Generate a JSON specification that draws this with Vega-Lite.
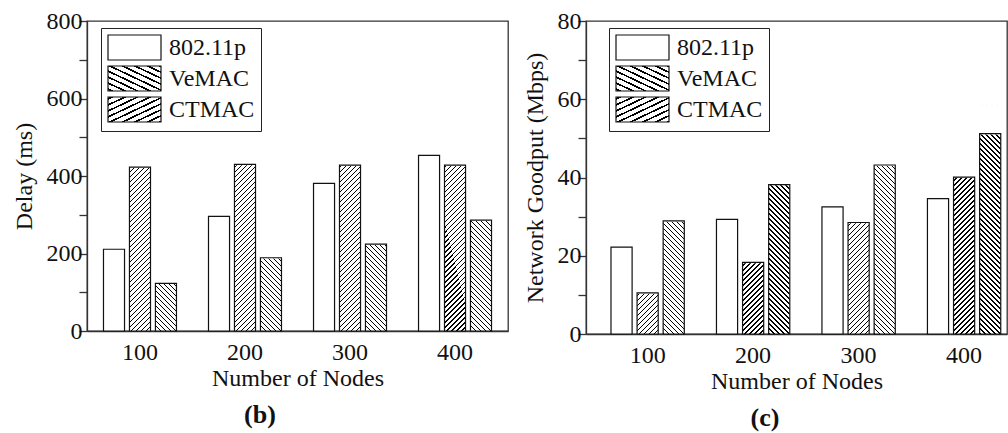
{
  "$schema": "https://vega.github.io/schema/vega-lite/v6.json",
  "padding": {"left": 11, "top": 8, "right": 0, "bottom": 0},
  "background": "white",
  "params": [
    {"name": "stB", "value": [
      {"offset":0,"color":"#000"},{"offset":0.006,"color":"#000"},{"offset":0.006,"color":"#fff"},{"offset":0.02,"color":"#fff"},
      {"offset":0.02,"color":"#000"},{"offset":0.026,"color":"#000"},{"offset":0.026,"color":"#fff"},{"offset":0.04,"color":"#fff"},
      {"offset":0.04,"color":"#000"},{"offset":0.046,"color":"#000"},{"offset":0.046,"color":"#fff"},{"offset":0.06,"color":"#fff"},
      {"offset":0.06,"color":"#000"},{"offset":0.066,"color":"#000"},{"offset":0.066,"color":"#fff"},{"offset":0.08,"color":"#fff"},
      {"offset":0.08,"color":"#000"},{"offset":0.086,"color":"#000"},{"offset":0.086,"color":"#fff"},{"offset":0.1,"color":"#fff"},
      {"offset":0.1,"color":"#000"},{"offset":0.106,"color":"#000"},{"offset":0.106,"color":"#fff"},{"offset":0.12,"color":"#fff"},
      {"offset":0.12,"color":"#000"},{"offset":0.126,"color":"#000"},{"offset":0.126,"color":"#fff"},{"offset":0.14,"color":"#fff"},
      {"offset":0.14,"color":"#000"},{"offset":0.146,"color":"#000"},{"offset":0.146,"color":"#fff"},{"offset":0.16,"color":"#fff"},
      {"offset":0.16,"color":"#000"},{"offset":0.166,"color":"#000"},{"offset":0.166,"color":"#fff"},{"offset":0.18,"color":"#fff"},
      {"offset":0.18,"color":"#000"},{"offset":0.186,"color":"#000"},{"offset":0.186,"color":"#fff"},{"offset":0.2,"color":"#fff"},
      {"offset":0.2,"color":"#000"},{"offset":0.206,"color":"#000"},{"offset":0.206,"color":"#fff"},{"offset":0.22,"color":"#fff"},
      {"offset":0.22,"color":"#000"},{"offset":0.226,"color":"#000"},{"offset":0.226,"color":"#fff"},{"offset":0.24,"color":"#fff"},
      {"offset":0.24,"color":"#000"},{"offset":0.246,"color":"#000"},{"offset":0.246,"color":"#fff"},{"offset":0.26,"color":"#fff"},
      {"offset":0.26,"color":"#000"},{"offset":0.266,"color":"#000"},{"offset":0.266,"color":"#fff"},{"offset":0.28,"color":"#fff"},
      {"offset":0.28,"color":"#000"},{"offset":0.286,"color":"#000"},{"offset":0.286,"color":"#fff"},{"offset":0.3,"color":"#fff"},
      {"offset":0.3,"color":"#000"},{"offset":0.306,"color":"#000"},{"offset":0.306,"color":"#fff"},{"offset":0.32,"color":"#fff"},
      {"offset":0.32,"color":"#000"},{"offset":0.326,"color":"#000"},{"offset":0.326,"color":"#fff"},{"offset":0.34,"color":"#fff"},
      {"offset":0.34,"color":"#000"},{"offset":0.346,"color":"#000"},{"offset":0.346,"color":"#fff"},{"offset":0.36,"color":"#fff"},
      {"offset":0.36,"color":"#000"},{"offset":0.366,"color":"#000"},{"offset":0.366,"color":"#fff"},{"offset":0.38,"color":"#fff"},
      {"offset":0.38,"color":"#000"},{"offset":0.386,"color":"#000"},{"offset":0.386,"color":"#fff"},{"offset":0.4,"color":"#fff"},
      {"offset":0.4,"color":"#000"},{"offset":0.406,"color":"#000"},{"offset":0.406,"color":"#fff"},{"offset":0.42,"color":"#fff"},
      {"offset":0.42,"color":"#000"},{"offset":0.426,"color":"#000"},{"offset":0.426,"color":"#fff"},{"offset":0.44,"color":"#fff"},
      {"offset":0.44,"color":"#000"},{"offset":0.446,"color":"#000"},{"offset":0.446,"color":"#fff"},{"offset":0.46,"color":"#fff"},
      {"offset":0.46,"color":"#000"},{"offset":0.466,"color":"#000"},{"offset":0.466,"color":"#fff"},{"offset":0.48,"color":"#fff"},
      {"offset":0.48,"color":"#000"},{"offset":0.486,"color":"#000"},{"offset":0.486,"color":"#fff"},{"offset":0.5,"color":"#fff"},
      {"offset":0.5,"color":"#000"},{"offset":0.506,"color":"#000"},{"offset":0.506,"color":"#fff"},{"offset":0.52,"color":"#fff"},
      {"offset":0.52,"color":"#000"},{"offset":0.526,"color":"#000"},{"offset":0.526,"color":"#fff"},{"offset":0.54,"color":"#fff"},
      {"offset":0.54,"color":"#000"},{"offset":0.546,"color":"#000"},{"offset":0.546,"color":"#fff"},{"offset":0.56,"color":"#fff"},
      {"offset":0.56,"color":"#000"},{"offset":0.566,"color":"#000"},{"offset":0.566,"color":"#fff"},{"offset":0.58,"color":"#fff"},
      {"offset":0.58,"color":"#000"},{"offset":0.586,"color":"#000"},{"offset":0.586,"color":"#fff"},{"offset":0.6,"color":"#fff"},
      {"offset":0.6,"color":"#000"},{"offset":0.606,"color":"#000"},{"offset":0.606,"color":"#fff"},{"offset":0.62,"color":"#fff"},
      {"offset":0.62,"color":"#000"},{"offset":0.626,"color":"#000"},{"offset":0.626,"color":"#fff"},{"offset":0.64,"color":"#fff"},
      {"offset":0.64,"color":"#000"},{"offset":0.646,"color":"#000"},{"offset":0.646,"color":"#fff"},{"offset":0.66,"color":"#fff"},
      {"offset":0.66,"color":"#000"},{"offset":0.666,"color":"#000"},{"offset":0.666,"color":"#fff"},{"offset":0.68,"color":"#fff"},
      {"offset":0.68,"color":"#000"},{"offset":0.686,"color":"#000"},{"offset":0.686,"color":"#fff"},{"offset":0.7,"color":"#fff"},
      {"offset":0.7,"color":"#000"},{"offset":0.706,"color":"#000"},{"offset":0.706,"color":"#fff"},{"offset":0.72,"color":"#fff"},
      {"offset":0.72,"color":"#000"},{"offset":0.726,"color":"#000"},{"offset":0.726,"color":"#fff"},{"offset":0.74,"color":"#fff"},
      {"offset":0.74,"color":"#000"},{"offset":0.746,"color":"#000"},{"offset":0.746,"color":"#fff"},{"offset":0.76,"color":"#fff"},
      {"offset":0.76,"color":"#000"},{"offset":0.766,"color":"#000"},{"offset":0.766,"color":"#fff"},{"offset":0.78,"color":"#fff"},
      {"offset":0.78,"color":"#000"},{"offset":0.786,"color":"#000"},{"offset":0.786,"color":"#fff"},{"offset":0.8,"color":"#fff"},
      {"offset":0.8,"color":"#000"},{"offset":0.806,"color":"#000"},{"offset":0.806,"color":"#fff"},{"offset":0.82,"color":"#fff"},
      {"offset":0.82,"color":"#000"},{"offset":0.826,"color":"#000"},{"offset":0.826,"color":"#fff"},{"offset":0.84,"color":"#fff"},
      {"offset":0.84,"color":"#000"},{"offset":0.846,"color":"#000"},{"offset":0.846,"color":"#fff"},{"offset":0.86,"color":"#fff"},
      {"offset":0.86,"color":"#000"},{"offset":0.866,"color":"#000"},{"offset":0.866,"color":"#fff"},{"offset":0.88,"color":"#fff"},
      {"offset":0.88,"color":"#000"},{"offset":0.886,"color":"#000"},{"offset":0.886,"color":"#fff"},{"offset":0.9,"color":"#fff"},
      {"offset":0.9,"color":"#000"},{"offset":0.906,"color":"#000"},{"offset":0.906,"color":"#fff"},{"offset":0.92,"color":"#fff"},
      {"offset":0.92,"color":"#000"},{"offset":0.926,"color":"#000"},{"offset":0.926,"color":"#fff"},{"offset":0.94,"color":"#fff"},
      {"offset":0.94,"color":"#000"},{"offset":0.946,"color":"#000"},{"offset":0.946,"color":"#fff"},{"offset":0.96,"color":"#fff"},
      {"offset":0.96,"color":"#000"},{"offset":0.966,"color":"#000"},{"offset":0.966,"color":"#fff"},{"offset":0.98,"color":"#fff"},
      {"offset":0.98,"color":"#000"},{"offset":0.986,"color":"#000"},{"offset":0.986,"color":"#fff"},{"offset":1,"color":"#fff"}
    ]},
    {"name": "stL", "value": [
      {"offset":0,"color":"#000"},{"offset":0.015,"color":"#000"},{"offset":0.015,"color":"#fff"},{"offset":0.05,"color":"#fff"},
      {"offset":0.05,"color":"#000"},{"offset":0.065,"color":"#000"},{"offset":0.065,"color":"#fff"},{"offset":0.1,"color":"#fff"},
      {"offset":0.1,"color":"#000"},{"offset":0.115,"color":"#000"},{"offset":0.115,"color":"#fff"},{"offset":0.15,"color":"#fff"},
      {"offset":0.15,"color":"#000"},{"offset":0.165,"color":"#000"},{"offset":0.165,"color":"#fff"},{"offset":0.2,"color":"#fff"},
      {"offset":0.2,"color":"#000"},{"offset":0.215,"color":"#000"},{"offset":0.215,"color":"#fff"},{"offset":0.25,"color":"#fff"},
      {"offset":0.25,"color":"#000"},{"offset":0.265,"color":"#000"},{"offset":0.265,"color":"#fff"},{"offset":0.3,"color":"#fff"},
      {"offset":0.3,"color":"#000"},{"offset":0.315,"color":"#000"},{"offset":0.315,"color":"#fff"},{"offset":0.35,"color":"#fff"},
      {"offset":0.35,"color":"#000"},{"offset":0.365,"color":"#000"},{"offset":0.365,"color":"#fff"},{"offset":0.4,"color":"#fff"},
      {"offset":0.4,"color":"#000"},{"offset":0.415,"color":"#000"},{"offset":0.415,"color":"#fff"},{"offset":0.45,"color":"#fff"},
      {"offset":0.45,"color":"#000"},{"offset":0.465,"color":"#000"},{"offset":0.465,"color":"#fff"},{"offset":0.5,"color":"#fff"},
      {"offset":0.5,"color":"#000"},{"offset":0.515,"color":"#000"},{"offset":0.515,"color":"#fff"},{"offset":0.55,"color":"#fff"},
      {"offset":0.55,"color":"#000"},{"offset":0.565,"color":"#000"},{"offset":0.565,"color":"#fff"},{"offset":0.6,"color":"#fff"},
      {"offset":0.6,"color":"#000"},{"offset":0.615,"color":"#000"},{"offset":0.615,"color":"#fff"},{"offset":0.65,"color":"#fff"},
      {"offset":0.65,"color":"#000"},{"offset":0.665,"color":"#000"},{"offset":0.665,"color":"#fff"},{"offset":0.7,"color":"#fff"},
      {"offset":0.7,"color":"#000"},{"offset":0.715,"color":"#000"},{"offset":0.715,"color":"#fff"},{"offset":0.75,"color":"#fff"},
      {"offset":0.75,"color":"#000"},{"offset":0.765,"color":"#000"},{"offset":0.765,"color":"#fff"},{"offset":0.8,"color":"#fff"},
      {"offset":0.8,"color":"#000"},{"offset":0.815,"color":"#000"},{"offset":0.815,"color":"#fff"},{"offset":0.85,"color":"#fff"},
      {"offset":0.85,"color":"#000"},{"offset":0.865,"color":"#000"},{"offset":0.865,"color":"#fff"},{"offset":0.9,"color":"#fff"},
      {"offset":0.9,"color":"#000"},{"offset":0.915,"color":"#000"},{"offset":0.915,"color":"#fff"},{"offset":0.95,"color":"#fff"},
      {"offset":0.95,"color":"#000"},{"offset":0.965,"color":"#000"},{"offset":0.965,"color":"#fff"},{"offset":1,"color":"#fff"}
    ]},
    {"name": "gradV", "expr": "{gradient: 'linear', x1: 0, y1: 0, x2: 0.0995, y2: 1.0826, stops: stB}"},
    {"name": "gradC", "expr": "{gradient: 'linear', x1: 0, y1: 1, x2: 0.0995, y2: -0.0826, stops: stB}"},
    {"name": "gradLV", "expr": "{gradient: 'linear', x1: 0, y1: 0, x2: 1.2038, y2: 0.5682, stops: stL}"},
    {"name": "gradLC", "expr": "{gradient: 'linear', x1: 0, y1: 1, x2: 1.2038, y2: 0.4318, stops: stL}"}
  ],
  "data": {"values": [
    {"nodes": "100", "protocol": "802.11p", "delay": 211, "goodput": 22.2},
    {"nodes": "100", "protocol": "VeMAC", "delay": 423, "goodput": 10.5},
    {"nodes": "100", "protocol": "CTMAC", "delay": 123, "goodput": 28.9},
    {"nodes": "200", "protocol": "802.11p", "delay": 296, "goodput": 29.3},
    {"nodes": "200", "protocol": "VeMAC", "delay": 430, "goodput": 18.3},
    {"nodes": "200", "protocol": "CTMAC", "delay": 189, "goodput": 38.2},
    {"nodes": "300", "protocol": "802.11p", "delay": 381, "goodput": 32.5},
    {"nodes": "300", "protocol": "VeMAC", "delay": 428, "goodput": 28.5},
    {"nodes": "300", "protocol": "CTMAC", "delay": 224, "goodput": 43.2},
    {"nodes": "400", "protocol": "802.11p", "delay": 453, "goodput": 34.6},
    {"nodes": "400", "protocol": "VeMAC", "delay": 428, "goodput": 40.1},
    {"nodes": "400", "protocol": "CTMAC", "delay": 286, "goodput": 51.2}
  ]},
  "config": {
    "font": "Liberation Serif",
    "view": {"stroke": "#333", "strokeWidth": 1.3},
    "axis": {"labelFont": "Liberation Serif", "titleFont": "Liberation Serif", "labelFontSize": 24, "titleFontSize": 24, "titleFontWeight": "normal", "labelColor": "#111", "titleColor": "#111", "domainColor": "#333", "tickColor": "#333", "domainWidth": 1.3, "tickWidth": 1.3, "grid": false},
    "legend": {"labelFont": "Liberation Serif", "labelFontSize": 24, "labelColor": "#111"},
    "title": {"font": "Liberation Serif", "fontSize": 26, "fontWeight": "bold", "color": "#111"},
    "concat": {"spacing": 13}
  },
  "resolve": {"scale": {"fill": "independent", "x": "independent", "xOffset": "independent", "y": "independent"}, "legend": {"fill": "independent"}},
  "hconcat": [
    {
      "width": 421,
      "height": 310,
      "title": {"text": "(b)", "orient": "bottom", "frame": "bounds", "anchor": "middle", "offset": 12},
      "encoding": {
        "x": {"field": "nodes", "type": "nominal", "scale": {"paddingInner": 0.305, "paddingOuter": 0.157}, "axis": {"title": "Number of Nodes", "labelAngle": 0, "tickSize": 0, "labelPadding": 9, "titlePadding": 2}},
        "xOffset": {"field": "protocol", "type": "nominal", "scale": {"domain": ["802.11p", "VeMAC", "CTMAC"], "paddingInner": 0.19, "paddingOuter": 0}}
      },
      "layer": [
        {
          "mark": {"type": "bar", "strokeWidth": 0},
          "encoding": {
            "y": {"datum": 0, "type": "quantitative", "scale": {"domain": [0, 800]}, "axis": {"title": "Delay (ms)", "values": [0, 100, 200, 300, 400, 500, 600, 700, 800], "labelExpr": "datum.value % 200 === 0 ? datum.label : ''", "tickSize": 8, "labelPadding": -3, "titlePadding": 10}},
            "y2": {"datum": 591},
            "fill": {"field": "protocol", "type": "nominal", "scale": {"domain": ["802.11p", "VeMAC", "CTMAC"], "range": ["#fff", {"expr": "gradV"}, {"expr": "gradC"}]},
              "legend": {"orient": "none", "legendX": 14, "legendY": 7, "title": null, "symbolType": "M-2.12,-1H2.12V1H-2.12Z", "symbolSize": 625, "padding": 6, "rowPadding": 0, "symbolOffset": 14, "labelOffset": 21, "strokeColor": "#222", "fillColor": "#fff", "cornerRadius": 0,
                "encode": {"symbols": {"update": {"fill": {"signal": "datum.value === 'VeMAC' ? gradLV : datum.value === 'CTMAC' ? gradLC : '#fff'"}, "stroke": {"value": "#111"}, "strokeWidth": {"value": 1.2}, "opacity": {"value": 1}}}}}}
          }
        },
        {
          "mark": {"type": "bar", "fill": "#fff", "stroke": "#fff", "strokeWidth": 1.5},
          "encoding": {
            "y": {"field": "delay", "type": "quantitative", "scale": {"domain": [0, 800]}, "axis": {"title": "Delay (ms)", "values": [0, 100, 200, 300, 400, 500, 600, 700, 800], "labelExpr": "datum.value % 200 === 0 ? datum.label : ''", "tickSize": 8, "labelPadding": -3, "titlePadding": 10}},
            "y2": {"datum": 591}
          }
        },
        {
          "mark": {"type": "bar", "fill": "transparent", "stroke": "#111", "strokeWidth": 1.2},
          "encoding": {
            "y": {"field": "delay", "type": "quantitative", "scale": {"domain": [0, 800]}, "axis": {"title": "Delay (ms)", "values": [0, 100, 200, 300, 400, 500, 600, 700, 800], "labelExpr": "datum.value % 200 === 0 ? datum.label : ''", "tickSize": 8, "labelPadding": -3, "titlePadding": 10}}
          }
        }
      ]
    },
    {
      "width": 421,
      "height": 313,
      "title": {"text": "(c)", "orient": "bottom", "frame": "bounds", "anchor": "middle", "offset": 12},
      "encoding": {
        "x": {"field": "nodes", "type": "nominal", "scale": {"paddingInner": 0.305, "paddingOuter": 0.148, "align": 0.8}, "axis": {"title": "Number of Nodes", "labelAngle": 0, "tickSize": 0, "labelPadding": 9, "titlePadding": 2}},
        "xOffset": {"field": "protocol", "type": "nominal", "scale": {"domain": ["802.11p", "VeMAC", "CTMAC"], "paddingInner": 0.19, "paddingOuter": 0}}
      },
      "layer": [
        {
          "mark": {"type": "bar", "strokeWidth": 0},
          "encoding": {
            "y": {"datum": 0, "type": "quantitative", "scale": {"domain": [0, 80]}, "axis": {"title": "Network Goodput (Mbps)", "values": [0, 10, 20, 30, 40, 50, 60, 70, 80], "labelExpr": "datum.value % 20 === 0 ? datum.label : ''", "tickSize": 8, "labelPadding": -3, "titlePadding": 10}},
            "y2": {"datum": 58.5},
            "fill": {"field": "protocol", "type": "nominal", "scale": {"domain": ["802.11p", "VeMAC", "CTMAC"], "range": ["#fff", {"expr": "gradV"}, {"expr": "gradC"}]},
              "legend": {"orient": "none", "legendX": 23, "legendY": 7, "title": null, "symbolType": "M-2.12,-1H2.12V1H-2.12Z", "symbolSize": 625, "padding": 6, "rowPadding": 0, "symbolOffset": 14, "labelOffset": 21, "strokeColor": "#222", "fillColor": "#fff", "cornerRadius": 0,
                "encode": {"symbols": {"update": {"fill": {"signal": "datum.value === 'VeMAC' ? gradLV : datum.value === 'CTMAC' ? gradLC : '#fff'"}, "stroke": {"value": "#111"}, "strokeWidth": {"value": 1.2}, "opacity": {"value": 1}}}}}}
          }
        },
        {
          "mark": {"type": "bar", "fill": "#fff", "stroke": "#fff", "strokeWidth": 1.5},
          "encoding": {
            "y": {"field": "goodput", "type": "quantitative", "scale": {"domain": [0, 80]}, "axis": {"title": "Network Goodput (Mbps)", "values": [0, 10, 20, 30, 40, 50, 60, 70, 80], "labelExpr": "datum.value % 20 === 0 ? datum.label : ''", "tickSize": 8, "labelPadding": -3, "titlePadding": 10}},
            "y2": {"datum": 58.5}
          }
        },
        {
          "mark": {"type": "bar", "fill": "transparent", "stroke": "#111", "strokeWidth": 1.2},
          "encoding": {
            "y": {"field": "goodput", "type": "quantitative", "scale": {"domain": [0, 80]}, "axis": {"title": "Network Goodput (Mbps)", "values": [0, 10, 20, 30, 40, 50, 60, 70, 80], "labelExpr": "datum.value % 20 === 0 ? datum.label : ''", "tickSize": 8, "labelPadding": -3, "titlePadding": 10}}
          }
        }
      ]
    }
  ]
}
